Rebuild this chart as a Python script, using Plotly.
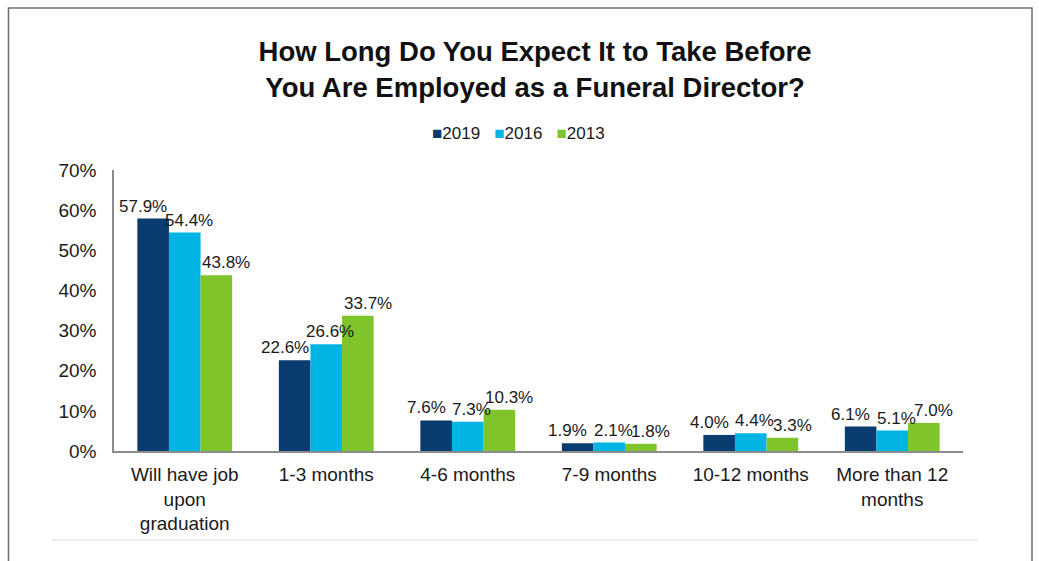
import plotly.graph_objects as go

# Survey responses: expected time to employment as a funeral director
categories = ["Will have job<br>upon<br>graduation", "1-3 months", "4-6 months",
              "7-9 months", "10-12 months", "More than 12<br>months"]
years = ["2019", "2016", "2013"]
values_2019 = [57.9, 22.6, 7.6, 1.9, 4.0, 6.1]
values_2016 = [54.4, 26.6, 7.3, 2.1, 4.4, 5.1]
values_2013 = [43.8, 33.7, 10.3, 1.8, 3.3, 7.0]
y_ticks = [0, 10, 20, 30, 40, 50, 60, 70]

series = [values_2019, values_2016, values_2013]
colors = ["#0b3c6f", "#00b4e4", "#7ec42a"]

W, H = 1039, 561
margin = dict(l=114, r=76, t=170, b=110)
plot_w = W - margin["l"] - margin["r"]
plot_h = H - margin["t"] - margin["b"]
bargap = 0.33
bar_px = plot_w / len(categories) * (1 - bargap) / len(years)
label_nudge = [-10, 4, 10]

fig = go.Figure()
for name, vals, col in zip(years, series, colors):
    fig.add_trace(go.Bar(name=name, x=categories, y=vals, marker_color=col,
                         marker_line_width=0, hoverinfo="skip", showlegend=False))

font = "Liberation Sans, Arial, sans-serif"
annotations = []
for i, (vals, nudge) in enumerate(zip(series, label_nudge)):
    for cat, v in zip(categories, vals):
        annotations.append(dict(
            x=cat, y=v, xref="x", yref="y", text=f"{v:.1f}%",
            showarrow=False, yanchor="bottom", yshift=1,
            xshift=(i - 1) * bar_px + nudge,
            font=dict(family=font, size=17, color="#1a1a1a")))

# compact legend row: coloured square followed by the year
legend_text = "   ".join(
    f"<span style='color:{c}'>■</span>{y}" for y, c in zip(years, colors))
annotations.append(dict(
    x=(518 - margin["l"]) / plot_w, y=(margin["t"] + plot_h - 133) / plot_h,
    xref="paper", yref="paper", xanchor="center", yanchor="middle",
    text=legend_text, showarrow=False,
    font=dict(family=font, size=17, color="#1a1a1a")))

fig.update_layout(
    width=W, height=H, margin=margin,
    paper_bgcolor="white", plot_bgcolor="white",
    barmode="group", bargap=bargap, bargroupgap=0,
    title=dict(text="<b>How Long Do You Expect It to Take Before<br>You Are Employed as a Funeral Director?</b>",
               x=0.515, xanchor="center", y=1 - 61 / H, yanchor="top", yref="container",
               font=dict(family=font, size=27.5, color="#111111")),
    annotations=annotations,
    showlegend=False,
)
fig.update_xaxes(showline=True, linecolor="#8c8c8c", linewidth=2, ticks="",
                 ticklabelstandoff=5,
                 tickfont=dict(family=font, size=19, color="#1a1a1a"), showgrid=False)
fig.update_yaxes(range=[0, 70], tickvals=y_ticks, ticktext=[f"{t}%" for t in y_ticks],
                 showline=True, linecolor="#8c8c8c", linewidth=1.5, ticks="",
                 ticklabelstandoff=12,
                 showgrid=False, zeroline=False,
                 tickfont=dict(family=font, size=19, color="#1a1a1a"))

# outer frame (left, top, right) and faint divider near the bottom
xl = (8.5 - margin["l"]) / plot_w
xr = (1032 - margin["l"]) / plot_w
yt = (margin["t"] + plot_h - 8) / plot_h
fig.add_shape(type="path", xref="paper", yref="paper",
              path=f"M {xl} -1 L {xl} {yt} L {xr} {yt} L {xr} -1",
              line=dict(color="#6e6e6e", width=1.5))
y_div = (margin["t"] + plot_h - 540) / plot_h
fig.add_shape(type="line", xref="paper", yref="paper",
              x0=(52 - margin["l"]) / plot_w, x1=(978 - margin["l"]) / plot_w,
              y0=y_div, y1=y_div, line=dict(color="#ececec", width=2))

fig.write_html("out.html")
